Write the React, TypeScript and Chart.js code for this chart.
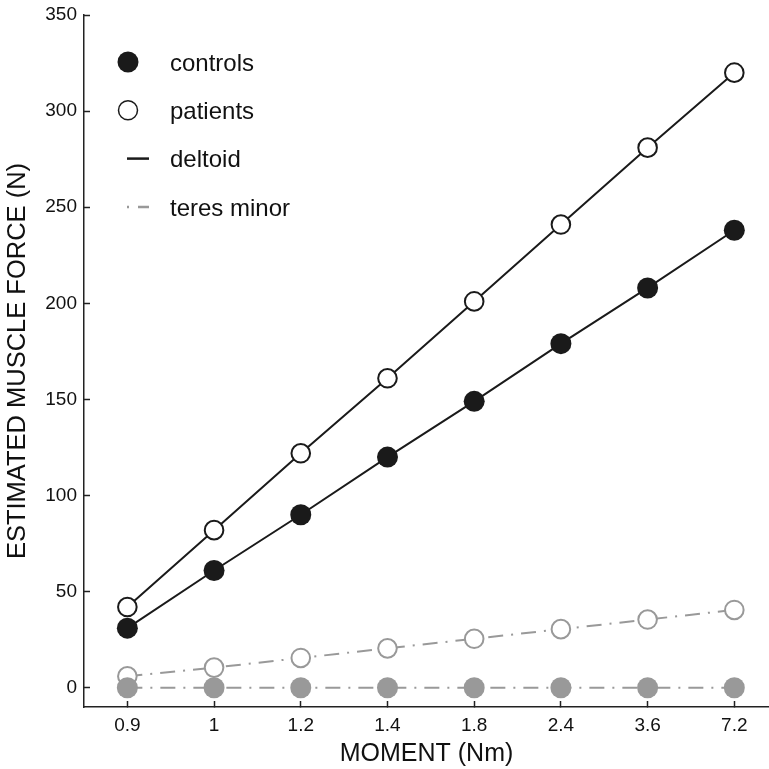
import React, { useEffect, useRef } from "react";
import { Chart, registerables } from "chart.js";

Chart.register(...registerables);

const categories = ["0.9", "1", "1.2", "1.4", "1.8", "2.4", "3.6", "7.2"];
const controlsDeltoid = [31, 61, 90, 120, 149, 179, 208, 238];
const patientsDeltoid = [42, 82, 122, 161, 201, 241, 281, 320];
const controlsTeres = [0, 0, 0, 0, 0, 0, 0, 0];
const patientsTeres = [6, 10.5, 15.5, 20.5, 25.5, 30.5, 35.5, 40.5];
const yTicks = [0, 50, 100, 150, 200, 250, 300, 350];
const legendLabels = ["controls", "patients", "deltoid", "teres minor"];
const xTitle = "MOMENT (Nm)";
const yTitle = "ESTIMATED MUSCLE FORCE (N)";

const FONT = '"Liberation Sans", Arial, Helvetica, sans-serif';
const BLACK = "#1a1a1a";
const GRAY = "#999999";
const DASH = [15, 8, 2, 8];

const toXY = (arr: number[]) => arr.map((y, i) => ({ x: i, y }));

const legendPlugin = {
  id: "customLegend",
  afterDraw(chart: any) {
    const ctx = chart.ctx as CanvasRenderingContext2D;
    const { left, top } = chart.chartArea;
    const mx = left + 44;
    const tx = left + 86;
    const y0 = top + 47;
    const dy = 48.3;
    ctx.save();
    ctx.fillStyle = BLACK;
    ctx.beginPath();
    ctx.arc(mx, y0, 10.5, 0, Math.PI * 2);
    ctx.fill();
    ctx.fillStyle = "#ffffff";
    ctx.strokeStyle = BLACK;
    ctx.lineWidth = 1.5;
    ctx.beginPath();
    ctx.arc(mx, y0 + dy, 9.5, 0, Math.PI * 2);
    ctx.fill();
    ctx.stroke();
    ctx.lineWidth = 2.5;
    ctx.strokeStyle = BLACK;
    ctx.beginPath();
    ctx.moveTo(mx - 1, y0 + 2 * dy);
    ctx.lineTo(mx + 21, y0 + 2 * dy);
    ctx.stroke();
    ctx.strokeStyle = GRAY;
    ctx.beginPath();
    ctx.moveTo(mx - 1, y0 + 3 * dy);
    ctx.lineTo(mx + 1, y0 + 3 * dy);
    ctx.moveTo(mx + 10, y0 + 3 * dy);
    ctx.lineTo(mx + 21, y0 + 3 * dy);
    ctx.stroke();
    ctx.fillStyle = "#111111";
    ctx.font = `24px ${FONT}`;
    ctx.textAlign = "left";
    ctx.textBaseline = "alphabetic";
    legendLabels.forEach((t, i) => {
      ctx.fillText(t, tx, y0 + i * dy + 8.7);
    });
    ctx.restore();
  },
};

export default function App() {
  const ref = useRef<HTMLCanvasElement | null>(null);

  useEffect(() => {
    if (!ref.current) return;
    const chart = new Chart(ref.current, {
      type: "line",
      data: {
        datasets: [
          {
            label: "controls deltoid",
            data: toXY(controlsDeltoid),
            borderColor: BLACK,
            borderWidth: 2,
            pointRadius: 10.5,
            pointBorderWidth: 0,
            pointBackgroundColor: BLACK,
            pointBorderColor: BLACK,
            order: 1,
          },
          {
            label: "controls teres minor",
            data: toXY(controlsTeres),
            borderColor: GRAY,
            borderWidth: 2,
            borderDash: DASH,
            pointRadius: 10.5,
            pointBorderWidth: 0,
            pointBackgroundColor: GRAY,
            pointBorderColor: GRAY,
            order: 2,
          },
          {
            label: "patients deltoid",
            data: toXY(patientsDeltoid),
            borderColor: BLACK,
            borderWidth: 2,
            pointRadius: 9.3,
            pointBorderWidth: 2,
            pointBackgroundColor: "#ffffff",
            pointBorderColor: BLACK,
            order: 3,
          },
          {
            label: "patients teres minor",
            data: toXY(patientsTeres),
            borderColor: GRAY,
            borderWidth: 2,
            borderDash: DASH,
            pointRadius: 9.3,
            pointBorderWidth: 2,
            pointBackgroundColor: "#ffffff",
            pointBorderColor: GRAY,
            order: 4,
          },
        ],
      },
      options: {
        animation: false,
        responsive: true,
        maintainAspectRatio: false,
        layout: { autoPadding: false, padding: { top: 15, right: 0, bottom: 0, left: 0 } },
        plugins: { legend: { display: false }, tooltip: { enabled: false } },
        elements: { line: { tension: 0, fill: false } },
        scales: {
          x: {
            type: "linear",
            min: -0.5,
            max: 7.4,
            afterBuildTicks: (axis: any) => {
              axis.ticks = categories.map((_, i) => ({ value: i }));
            },
            afterFit: (axis: any) => {
              axis.height = 62;
              axis.paddingLeft = 0;
              axis.paddingRight = 0;
            },
            grid: {
              drawOnChartArea: false,
              drawTicks: true,
              tickLength: -6,
              tickWidth: 1.5,
              tickColor: "#222222",
            },
            border: { display: true, color: "#222222", width: 1.5 },
            ticks: {
              padding: 13,
              autoSkip: false,
              maxRotation: 0,
              color: "#111111",
              font: { family: FONT, size: 19 },
              callback: (v: any) => categories[v] ?? "",
            },
            title: {
              display: true,
              text: xTitle,
              color: "#111111",
              font: { family: FONT, size: 25 },
              padding: { top: 0, bottom: 0 },
            },
          },
          y: {
            type: "linear",
            min: -10,
            max: 350,
            afterBuildTicks: (axis: any) => {
              axis.ticks = yTicks.map((v) => ({ value: v }));
            },
            afterFit: (axis: any) => {
              axis.width = 84;
              axis.paddingTop = 0;
              axis.paddingBottom = 0;
            },
            grid: {
              drawOnChartArea: false,
              drawTicks: true,
              tickLength: -6,
              tickWidth: 1.5,
              tickColor: "#222222",
            },
            border: { display: true, color: "#222222", width: 1.5 },
            ticks: {
              padding: 13,
              color: "#111111",
              font: { family: FONT, size: 19 },
              callback: (v: any) => String(v),
            },
            title: {
              display: true,
              text: yTitle,
              color: "#111111",
              font: { family: FONT, size: 25.5 },
              padding: { top: 3, bottom: 0 },
            },
          },
        },
      } as any,
      plugins: [legendPlugin],
    });
    return () => chart.destroy();
  }, []);

  return (
    <div style={{ position: "absolute", left: 0, top: 0, width: 769, height: 769, background: "#ffffff" }}>
      <canvas ref={ref} />
    </div>
  );
}
